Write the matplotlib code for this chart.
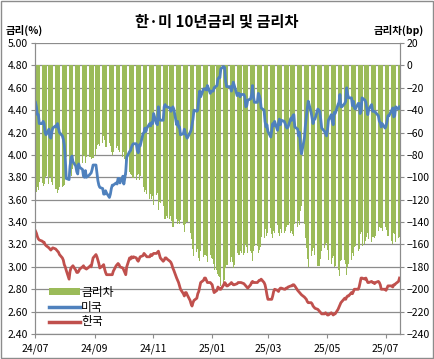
import pandas as pd
import matplotlib.pyplot as plt
import matplotlib.dates as mdates
from matplotlib.patches import Patch, Rectangle
from matplotlib.lines import Line2D

plt.rcParams['font.family'] = ['Noto Sans CJK KR', 'DejaVu Sans']

# weekdays 2024-07-01 .. 2025-07-15, one row per week (Mon..Fri)
start_date = "2024-07-01"
end_date = "2025-07-15"

us_10y = [
    4.47, 4.43, 4.36, 4.36, 4.28,
    4.28, 4.30, 4.28, 4.20, 4.18,
    4.23, 4.16, 4.15, 4.20, 4.24,
    4.26, 4.25, 4.28, 4.24, 4.20,
    4.17, 4.14, 4.09, 3.98, 3.79,
    3.78, 3.90, 3.96, 3.99, 3.94,
    3.90, 3.85, 3.83, 3.92, 3.89,
    3.87, 3.81, 3.80, 3.86, 3.80,
    3.82, 3.83, 3.84, 3.87, 3.91,
    3.91, 3.84, 3.77, 3.73, 3.71,
    3.70, 3.65, 3.65, 3.68, 3.66,
    3.62, 3.65, 3.70, 3.73, 3.73,
    3.75, 3.74, 3.79, 3.79, 3.75,
    3.81, 3.74, 3.79, 3.85, 3.98,
    4.03, 4.04, 4.07, 4.09, 4.10,
    4.10, 4.04, 4.02, 4.09, 4.08,
    4.19, 4.20, 4.24, 4.21, 4.24,
    4.28, 4.26, 4.29, 4.28, 4.37,
    4.28, 4.27, 4.43, 4.33, 4.31,
    4.31, 4.43, 4.45, 4.43, 4.43,
    4.42, 4.39, 4.41, 4.43, 4.41,
    4.27, 4.30, 4.25, 4.25, 4.18,
    4.19, 4.23, 4.19, 4.17, 4.15,
    4.20, 4.22, 4.27, 4.32, 4.40,
    4.39, 4.40, 4.50, 4.57, 4.52,
    4.59, 4.59, 4.59, 4.58, 4.62,
    4.55, 4.57, 4.57, 4.57, 4.60,
    4.62, 4.68, 4.69, 4.69, 4.77,
    4.79, 4.78, 4.66, 4.61, 4.61,
    4.61, 4.57, 4.61, 4.65, 4.62,
    4.53, 4.55, 4.55, 4.52, 4.54,
    4.54, 4.52, 4.43, 4.44, 4.49,
    4.50, 4.54, 4.62, 4.52, 4.47,
    4.47, 4.55, 4.53, 4.50, 4.42,
    4.40, 4.30, 4.25, 4.27, 4.21,
    4.16, 4.22, 4.28, 4.26, 4.30,
    4.22, 4.28, 4.32, 4.27, 4.31,
    4.30, 4.28, 4.25, 4.24, 4.25,
    4.33, 4.31, 4.35, 4.36, 4.25,
    4.23, 4.17, 4.20, 4.06, 4.01,
    4.15, 4.26, 4.34, 4.42, 4.48,
    4.38, 4.33, 4.28, 4.32, 4.32,
    4.41, 4.40, 4.39, 4.32, 4.24,
    4.21, 4.19, 4.17, 4.22, 4.31,
    4.36, 4.30, 4.27, 4.38, 4.37,
    4.45, 4.47, 4.54, 4.43, 4.43,
    4.46, 4.48, 4.60, 4.54, 4.51,
    4.51, 4.44, 4.48, 4.42, 4.41,
    4.46, 4.46, 4.37, 4.39, 4.51,
    4.49, 4.47, 4.41, 4.36, 4.41,
    4.45, 4.39, 4.39, 4.39, 4.38,
    4.35, 4.30, 4.29, 4.25, 4.28,
    4.24, 4.26, 4.30, 4.35, 4.35,
    4.40, 4.42, 4.34, 4.35, 4.43,
    4.41, 4.43,
]

kr_10y = [
    3.32, 3.30, 3.27, 3.25, 3.24,
    3.23, 3.22, 3.22, 3.20, 3.19,
    3.17, 3.16, 3.15, 3.16, 3.17,
    3.16, 3.15, 3.14, 3.13, 3.11,
    3.08, 3.06, 3.02, 3.00, 2.97,
    2.89, 2.96, 2.99, 3.00, 3.01,
    2.97, 2.95, 2.95, 2.96, 2.98,
    3.00, 3.01, 2.99, 2.99, 2.98,
    3.00, 3.01, 3.00, 3.04, 3.08,
    3.11, 3.09, 3.06, 3.03, 2.99,
    3.01, 3.02, 2.98, 2.95, 2.93,
    2.93, 2.93, 2.93, 2.93, 2.96,
    3.01, 3.02, 3.03, 3.02, 3.00,
    2.99, 2.97, 2.95, 2.93, 3.00,
    3.08, 3.07, 3.09, 3.08, 3.09,
    3.08, 3.06, 3.05, 3.07, 3.09,
    3.10, 3.12, 3.11, 3.10, 3.09,
    3.09, 3.11, 3.10, 3.11, 3.12,
    3.12, 3.13, 3.14, 3.11, 3.08,
    3.05, 3.06, 3.08, 3.08, 3.07,
    3.05, 3.04, 3.02, 2.99, 2.97,
    2.90, 2.88, 2.86, 2.83, 2.80,
    2.76, 2.74, 2.77, 2.77, 2.75,
    2.70, 2.67, 2.65, 2.68, 2.70,
    2.72, 2.76, 2.78, 2.82, 2.86,
    2.88, 2.90, 2.90, 2.88, 2.86,
    2.86, 2.85, 2.84, 2.80, 2.77,
    2.79, 2.82, 2.81, 2.80, 2.80,
    2.84, 2.86, 2.85, 2.83, 2.83,
    2.85, 2.86, 2.85, 2.84, 2.84,
    2.85, 2.86, 2.86, 2.86, 2.86,
    2.85, 2.84, 2.83, 2.82, 2.81,
    2.84, 2.86, 2.87, 2.86, 2.86,
    2.86, 2.87, 2.88, 2.88, 2.89,
    2.86, 2.84, 2.80, 2.75, 2.71,
    2.71, 2.71, 2.74, 2.78, 2.80,
    2.79, 2.78, 2.80, 2.81, 2.81,
    2.80, 2.80, 2.81, 2.81, 2.82,
    2.83, 2.83, 2.84, 2.84, 2.83,
    2.79, 2.78, 2.77, 2.76, 2.75,
    2.73, 2.72, 2.71, 2.69, 2.68,
    2.68, 2.67, 2.65, 2.64, 2.63,
    2.62, 2.61, 2.60, 2.59, 2.58,
    2.58, 2.59, 2.58, 2.57, 2.57,
    2.59, 2.58, 2.57, 2.58, 2.58,
    2.62, 2.64, 2.66, 2.68, 2.69,
    2.72, 2.71, 2.73, 2.74, 2.74,
    2.77, 2.76, 2.78, 2.80, 2.80,
    2.80, 2.82, 2.86, 2.90, 2.90,
    2.89, 2.90, 2.88, 2.86, 2.86,
    2.87, 2.86, 2.86, 2.85, 2.86,
    2.87, 2.86, 2.84, 2.80, 2.80,
    2.80, 2.79, 2.81, 2.83, 2.83,
    2.83, 2.82, 2.84, 2.84, 2.85,
    2.87, 2.90,
]

tick_dates = ["2024-07-01", "2024-09-01", "2024-11-01", "2025-01-01",
              "2025-03-01", "2025-05-01", "2025-07-01"]

GREEN = "#9bbb59"
BLUE = "#4f81bd"
RED = "#c0504d"
GRID = "#8c8c8c"


def main():
    dates = pd.bdate_range(start_date, end_date)
    df = pd.DataFrame({"us": us_10y, "kr": kr_10y}, index=dates)
    df["spread"] = (df["kr"] - df["us"]) * 100
    x = df.index + pd.Timedelta(hours=12)

    fig = plt.figure(figsize=(4.34, 3.59), dpi=100)
    ax = fig.add_axes([0.0806, 0.0696, 0.841, 0.8106])
    ax2 = ax.twinx()
    ax.set_zorder(ax2.get_zorder() + 1)
    ax.patch.set_visible(False)

    # spread bars (right axis)
    ax2.bar(x, df["spread"], width=1.04, color=GREEN, linewidth=0, zorder=2)
    ax2.set_ylim(-240, 20)
    ax2.set_yticks(range(-240, 21, 20))
    ax2.grid(axis="y", color=GRID, linewidth=0.9, zorder=0)
    ax2.set_axisbelow(True)

    ax.plot(x, df["us"], color=BLUE, linewidth=2.0, solid_joinstyle="round")
    ax.plot(x, df["kr"], color=RED, linewidth=2.0, solid_joinstyle="round")
    ax.set_ylim(2.4, 5.0)
    ax.set_yticks([2.4 + 0.2 * i for i in range(14)])
    ax.yaxis.set_major_formatter(plt.FormatStrFormatter("%.2f"))

    ax.set_xlim(pd.Timestamp("2024-07-01"), pd.Timestamp("2025-07-16"))
    ax.set_xticks(pd.to_datetime(tick_dates))
    ax.xaxis.set_major_formatter(mdates.DateFormatter("%y/%m"))

    for a in (ax, ax2):
        for side in ("left", "right", "bottom"):
            a.spines[side].set_color(GRID)
        a.spines["top"].set_visible(False)
        a.tick_params(labelsize=7.5, length=3, color=GRID, pad=2)
    ax.tick_params(axis="x", pad=4)

    fig.text(0.5, 0.94, "한·미 10년금리 및 금리차", ha="center", va="center",
             fontsize=11, fontweight="bold")
    fig.text(0.012, 0.915, "금리(%)", ha="left", va="center",
             fontsize=7.5, fontweight="bold")
    fig.text(0.977, 0.915, "금리차(bp)", ha="right", va="center",
             fontsize=7.5, fontweight="bold")

    handles = [
        Patch(facecolor=GREEN, edgecolor="none"),
        Line2D([], [], color=BLUE, linewidth=2.5),
        Line2D([], [], color=RED, linewidth=2.5),
    ]
    ax.legend(handles, ["금리차", "미국", "한국"], loc="lower left",
              bbox_to_anchor=(0.02, -0.005), frameon=False, fontsize=8.5,
              handlelength=2.6, handleheight=0.5, handletextpad=0.1,
              labelspacing=0.15, borderaxespad=0.2)

    fig.patches.append(Rectangle((0.002, 0.003), 0.995, 0.994,
                                 transform=fig.transFigure, fill=False,
                                 edgecolor="#8c8c8c", linewidth=1))

    fig.savefig("out.png", dpi=100)
    plt.close(fig)


if __name__ == "__main__":
    main()
